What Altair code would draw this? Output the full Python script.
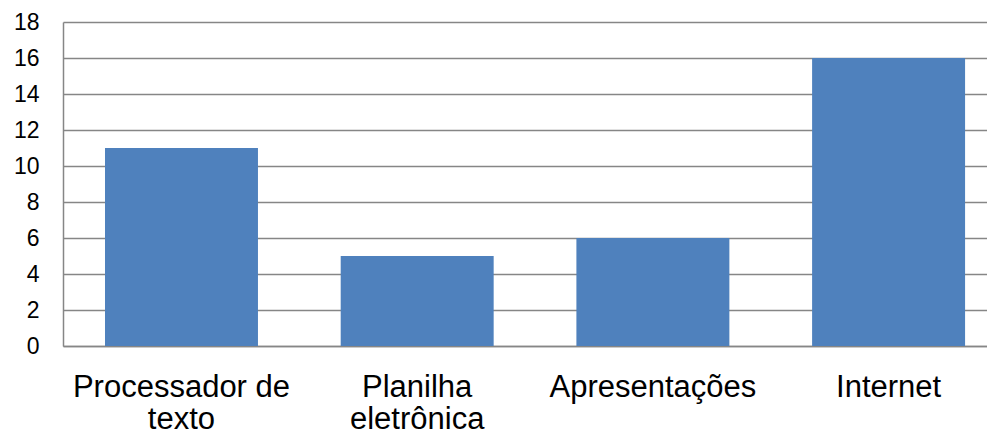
import altair as alt
import pandas as pd

categories = ["Processador de texto", "Planilha eletrônica", "Apresentações", "Internet"]
values = [11, 5, 6, 16]
y_ticks = [0, 2, 4, 6, 8, 10, 12, 14, 16, 18]

df = pd.DataFrame({"categoria": categories, "valor": values})

label_expr = ("datum.label == 'Processador de texto' ? ['Processador de', 'texto'] : "
              "datum.label == 'Planilha eletrônica' ? ['Planilha', 'eletrônica'] : datum.label")

chart = alt.Chart(df).mark_bar(color="#4F81BD").encode(
    x=alt.X("categoria:N", sort=categories, title=None,
            scale=alt.Scale(paddingInner=0.351, paddingOuter=0.1356, align=0.657),
            axis=alt.Axis(labelAngle=0, labelExpr=label_expr, labelFont="Liberation Sans",
                          labelFontSize=31, labelColor="#000000", labelPadding=26,
                          labelLineHeight=32, labelLimit=0, ticks=False,
                          domainColor="#868686", domainWidth=1.5, labelBaseline="top")),
    y=alt.Y("valor:Q", title=None,
            scale=alt.Scale(domain=[0, 18], nice=False),
            axis=alt.Axis(values=y_ticks, labelFont="Liberation Sans", labelFontSize=23,
                          labelColor="#000000", labelPadding=24, ticks=False,
                          grid=True, gridColor="#868686", gridWidth=1.5,
                          domainColor="#868686", domainWidth=1.5)),
).properties(
    width=924, height=324,
    autosize=alt.AutoSizeParams(type="none"),
    padding={"left": 55, "top": 14, "right": 0, "bottom": 85},
).configure_view(stroke=None)

chart.save("out.html", embed_options={"renderer": "svg", "actions": False})
